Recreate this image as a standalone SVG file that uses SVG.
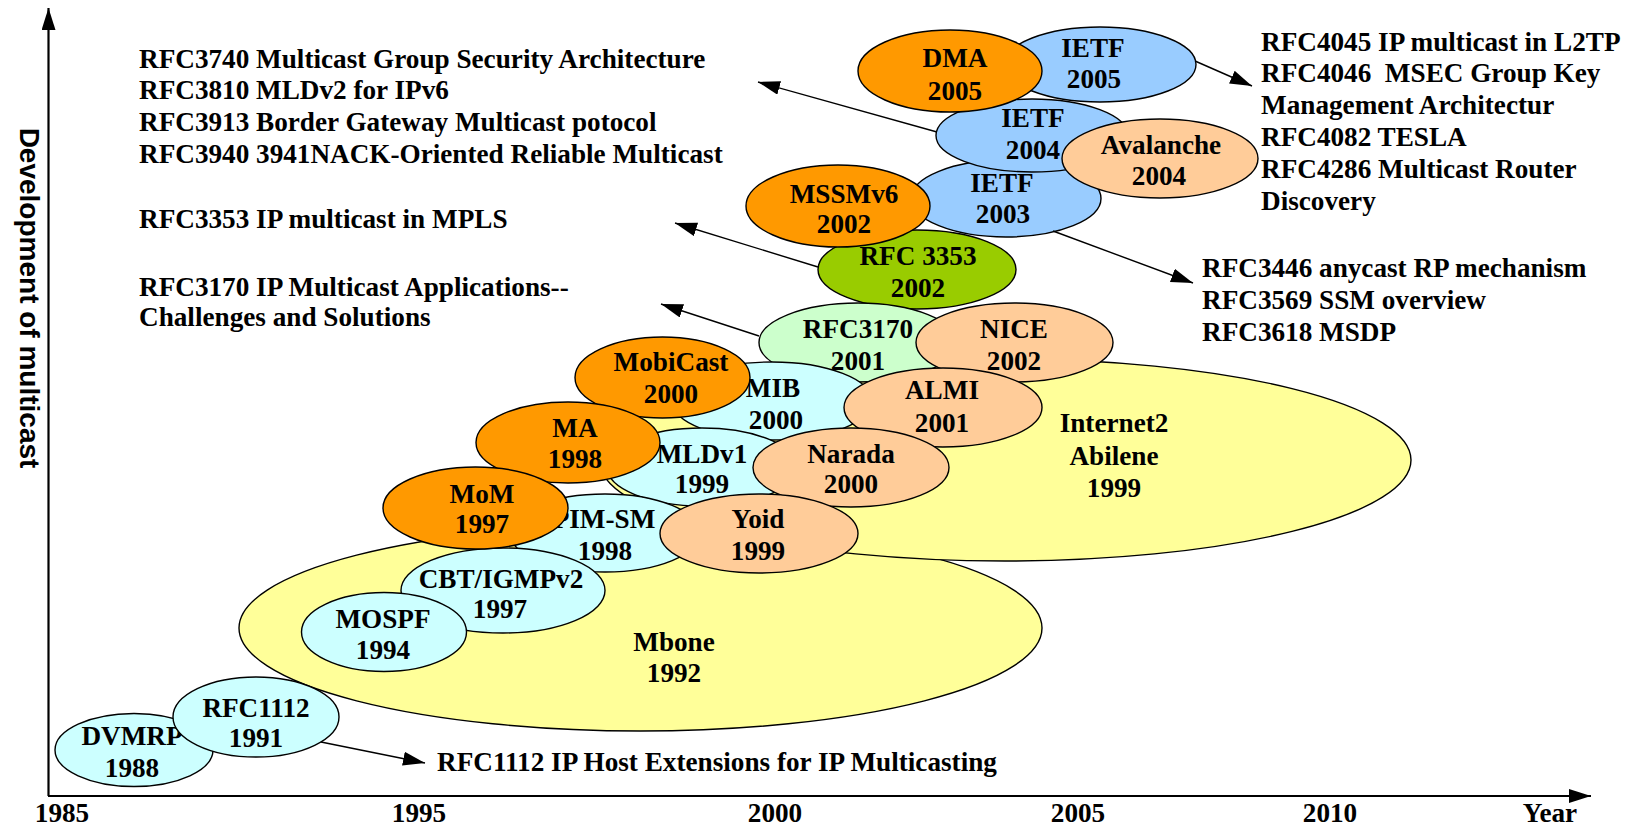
<svg xmlns="http://www.w3.org/2000/svg" width="1626" height="826" viewBox="0 0 1626 826">
<style>
text{font-family:"Liberation Serif","Times New Roman",serif;font-weight:bold;font-size:27.2px;fill:#000}
.c{text-anchor:middle}
.yl{font-family:"Liberation Sans",Arial,sans-serif;font-size:28px}
ellipse{stroke:#000;stroke-width:1.4}
.cy{fill:#CCFFFF}.or{fill:#FF9900}.pe{fill:#FFCC99}.bl{fill:#99CCFF}.lg{fill:#CCFFCC}.gr{fill:#99CC00}.ye{fill:#FFFF99}
.cn line{stroke:#000;stroke-width:1.4;marker-end:url(#ah)}
.ax line{stroke:#000;stroke-width:2.2;marker-end:url(#ah)}
</style>
<defs>
<marker id="ah" markerUnits="userSpaceOnUse" markerWidth="24" markerHeight="16" refX="22" refY="7" orient="auto">
<path d="M0,0 L22,7 L0,14 z" fill="#000"/>
</marker>
</defs>
<rect width="1626" height="826" fill="#fff"/>

<g id="axes" class="ax">
<line x1="48.5" y1="796" x2="48.5" y2="8"/>
<line x1="48" y1="796" x2="1591" y2="796"/>
<text class="c" x="62" y="822">1985</text>
<text class="c" x="419" y="822">1995</text>
<text class="c" x="775" y="822">2000</text>
<text class="c" x="1078" y="822">2005</text>
<text class="c" x="1330" y="822">2010</text>
<text class="c" x="1550" y="822">Year</text>
<text class="c yl" transform="translate(20,298) rotate(90)">Development of multicast</text>
</g>

<g id="node-mbone"><ellipse class="ye" cx="640.5" cy="628" rx="401.5" ry="103"/>
<text class="c" x="674" y="651">Mbone<tspan x="674" y="682">1992</tspan></text></g>
<g id="node-internet2"><ellipse class="ye" cx="1005" cy="460" rx="406" ry="101"/>
<text class="c" x="1114" y="432">Internet2<tspan x="1114" y="465">Abilene</tspan><tspan x="1114" y="497">1999</tspan></text></g>

<g id="node-dvmrp"><ellipse class="cy" cx="134" cy="750" rx="79" ry="36.5"/>
<text class="c" x="132" y="745">DVMRP<tspan x="132" y="777">1988</tspan></text></g>
<g id="node-rfc1112"><ellipse class="cy" cx="256" cy="717" rx="83" ry="40"/>
<text class="c" x="256" y="717">RFC1112<tspan x="256" y="747">1991</tspan></text></g>

<g id="node-rfc3353"><ellipse class="gr" cx="917" cy="269.5" rx="99" ry="39.5"/>
<text class="c" x="918" y="265">RFC 3353<tspan x="918" y="297">2002</tspan></text></g>
<g id="node-ietf2003"><ellipse class="bl" cx="1006" cy="198.5" rx="95" ry="38.5"/>
<text class="c" x="1002" y="192">IETF<tspan x="1003" y="223">2003</tspan></text></g>
<g id="node-ietf2004"><ellipse class="bl" cx="1032" cy="135.5" rx="96" ry="36.5"/>
<text class="c" x="1033" y="127">IETF<tspan x="1033" y="159">2004</tspan></text></g>
<g id="node-avalanche"><ellipse class="pe" cx="1160" cy="158.5" rx="98" ry="39.5"/>
<text class="c" x="1161" y="154">Avalanche<tspan x="1159" y="185">2004</tspan></text></g>
<g id="node-ietf2005"><ellipse class="bl" cx="1100" cy="64.5" rx="96" ry="37.5"/>
<text class="c" x="1093" y="57">IETF<tspan x="1094" y="88">2005</tspan></text></g>
<g id="node-dma"><ellipse class="or" cx="950" cy="71" rx="92" ry="41"/>
<text class="c" x="955" y="67">DMA<tspan x="955" y="100">2005</tspan></text></g>
<g id="node-mssmv6"><ellipse class="or" cx="838" cy="206" rx="92" ry="41"/>
<text class="c" x="844" y="203">MSSMv6<tspan x="844" y="233">2002</tspan></text></g>

<g id="node-rfc3170"><ellipse class="lg" cx="858" cy="342.5" rx="99" ry="39.5"/>
<text class="c" x="858" y="338">RFC3170<tspan x="858" y="370">2001</tspan></text></g>
<g id="node-mib"><ellipse class="cy" cx="772" cy="401" rx="100" ry="39"/>
<text class="c" x="773" y="397">MIB<tspan x="776" y="429">2000</tspan></text></g>
<g id="node-mobicast"><ellipse class="or" cx="662.5" cy="377.5" rx="87.5" ry="40.5"/>
<text class="c" x="671" y="371">MobiCast<tspan x="671" y="403">2000</tspan></text></g>
<g id="node-nice"><ellipse class="pe" cx="1014.5" cy="342.5" rx="98.5" ry="39.5"/>
<text class="c" x="1014" y="338">NICE<tspan x="1014" y="370">2002</tspan></text></g>
<g id="node-almi"><ellipse class="pe" cx="943" cy="407.5" rx="99" ry="39.5"/>
<text class="c" x="942" y="399">ALMI<tspan x="942" y="432">2001</tspan></text></g>
<g id="node-mldv1"><ellipse class="cy" cx="702" cy="467" rx="95" ry="39"/>
<text class="c" x="702" y="463">MLDv1<tspan x="702" y="493">1999</tspan></text></g>
<g id="node-ma"><ellipse class="or" cx="568" cy="442.5" rx="92" ry="40.5"/>
<text class="c" x="575" y="437">MA<tspan x="575" y="468">1998</tspan></text></g>
<g id="node-narada"><ellipse class="pe" cx="851" cy="467.5" rx="98" ry="39.5"/>
<text class="c" x="851" y="463">Narada<tspan x="851" y="493">2000</tspan></text></g>
<g id="node-pimsm"><ellipse class="cy" cx="605" cy="533" rx="95" ry="39"/>
<text class="c" x="604" y="528">PIM-SM<tspan x="605" y="560">1998</tspan></text></g>
<g id="node-cbt"><ellipse class="cy" cx="503" cy="590.5" rx="102" ry="42.5"/>
<text class="c" x="501" y="588">CBT/IGMPv2<tspan x="500" y="618">1997</tspan></text></g>
<g id="node-mom"><ellipse class="or" cx="475.5" cy="508" rx="92.5" ry="41"/>
<text class="c" x="482" y="503">MoM<tspan x="482" y="533">1997</tspan></text></g>
<g id="node-mospf"><ellipse class="cy" cx="384" cy="632" rx="82.5" ry="39.5"/>
<text class="c" x="383" y="628">MOSPF<tspan x="383" y="659">1994</tspan></text></g>
<g id="node-yoid"><ellipse class="pe" cx="759" cy="533.5" rx="99" ry="39.5"/>
<text class="c" x="758" y="528">Yoid<tspan x="758" y="560">1999</tspan></text></g>

<g id="connectors" class="cn">
<line x1="321" y1="742" x2="425" y2="763"/>
<line x1="759" y1="336" x2="661" y2="304"/>
<line x1="818" y1="267" x2="675" y2="223"/>
<line x1="937" y1="132" x2="758" y2="82"/>
<line x1="1195" y1="61" x2="1252" y2="86"/>
<line x1="1053" y1="231" x2="1193" y2="283"/>
</g>

<g id="notes">
<text x="437" y="771">RFC1112 IP Host Extensions for IP Multicasting</text>
<text x="139" y="68">RFC3740 Multicast Group Security Architecture</text>
<text x="139" y="99">RFC3810 MLDv2 for IPv6</text>
<text x="139" y="131">RFC3913 Border Gateway Multicast potocol</text>
<text x="139" y="163">RFC3940 3941NACK-Oriented Reliable Multicast</text>
<text x="139" y="228">RFC3353 IP multicast in MPLS</text>
<text x="139" y="296">RFC3170 IP Multicast Applications--</text>
<text x="139" y="326">Challenges and Solutions</text>
<text x="1261" y="51">RFC4045 IP multicast in L2TP</text>
<text x="1261" y="82" style="white-space:pre">RFC4046  MSEC Group Key</text>
<text x="1261" y="114">Management Architectur</text>
<text x="1261" y="146">RFC4082 TESLA</text>
<text x="1261" y="178">RFC4286 Multicast Router</text>
<text x="1261" y="210">Discovery</text>
<text x="1202" y="277">RFC3446 anycast RP mechanism</text>
<text x="1202" y="309">RFC3569 SSM overview</text>
<text x="1202" y="341">RFC3618 MSDP</text>
</g>
</svg>
